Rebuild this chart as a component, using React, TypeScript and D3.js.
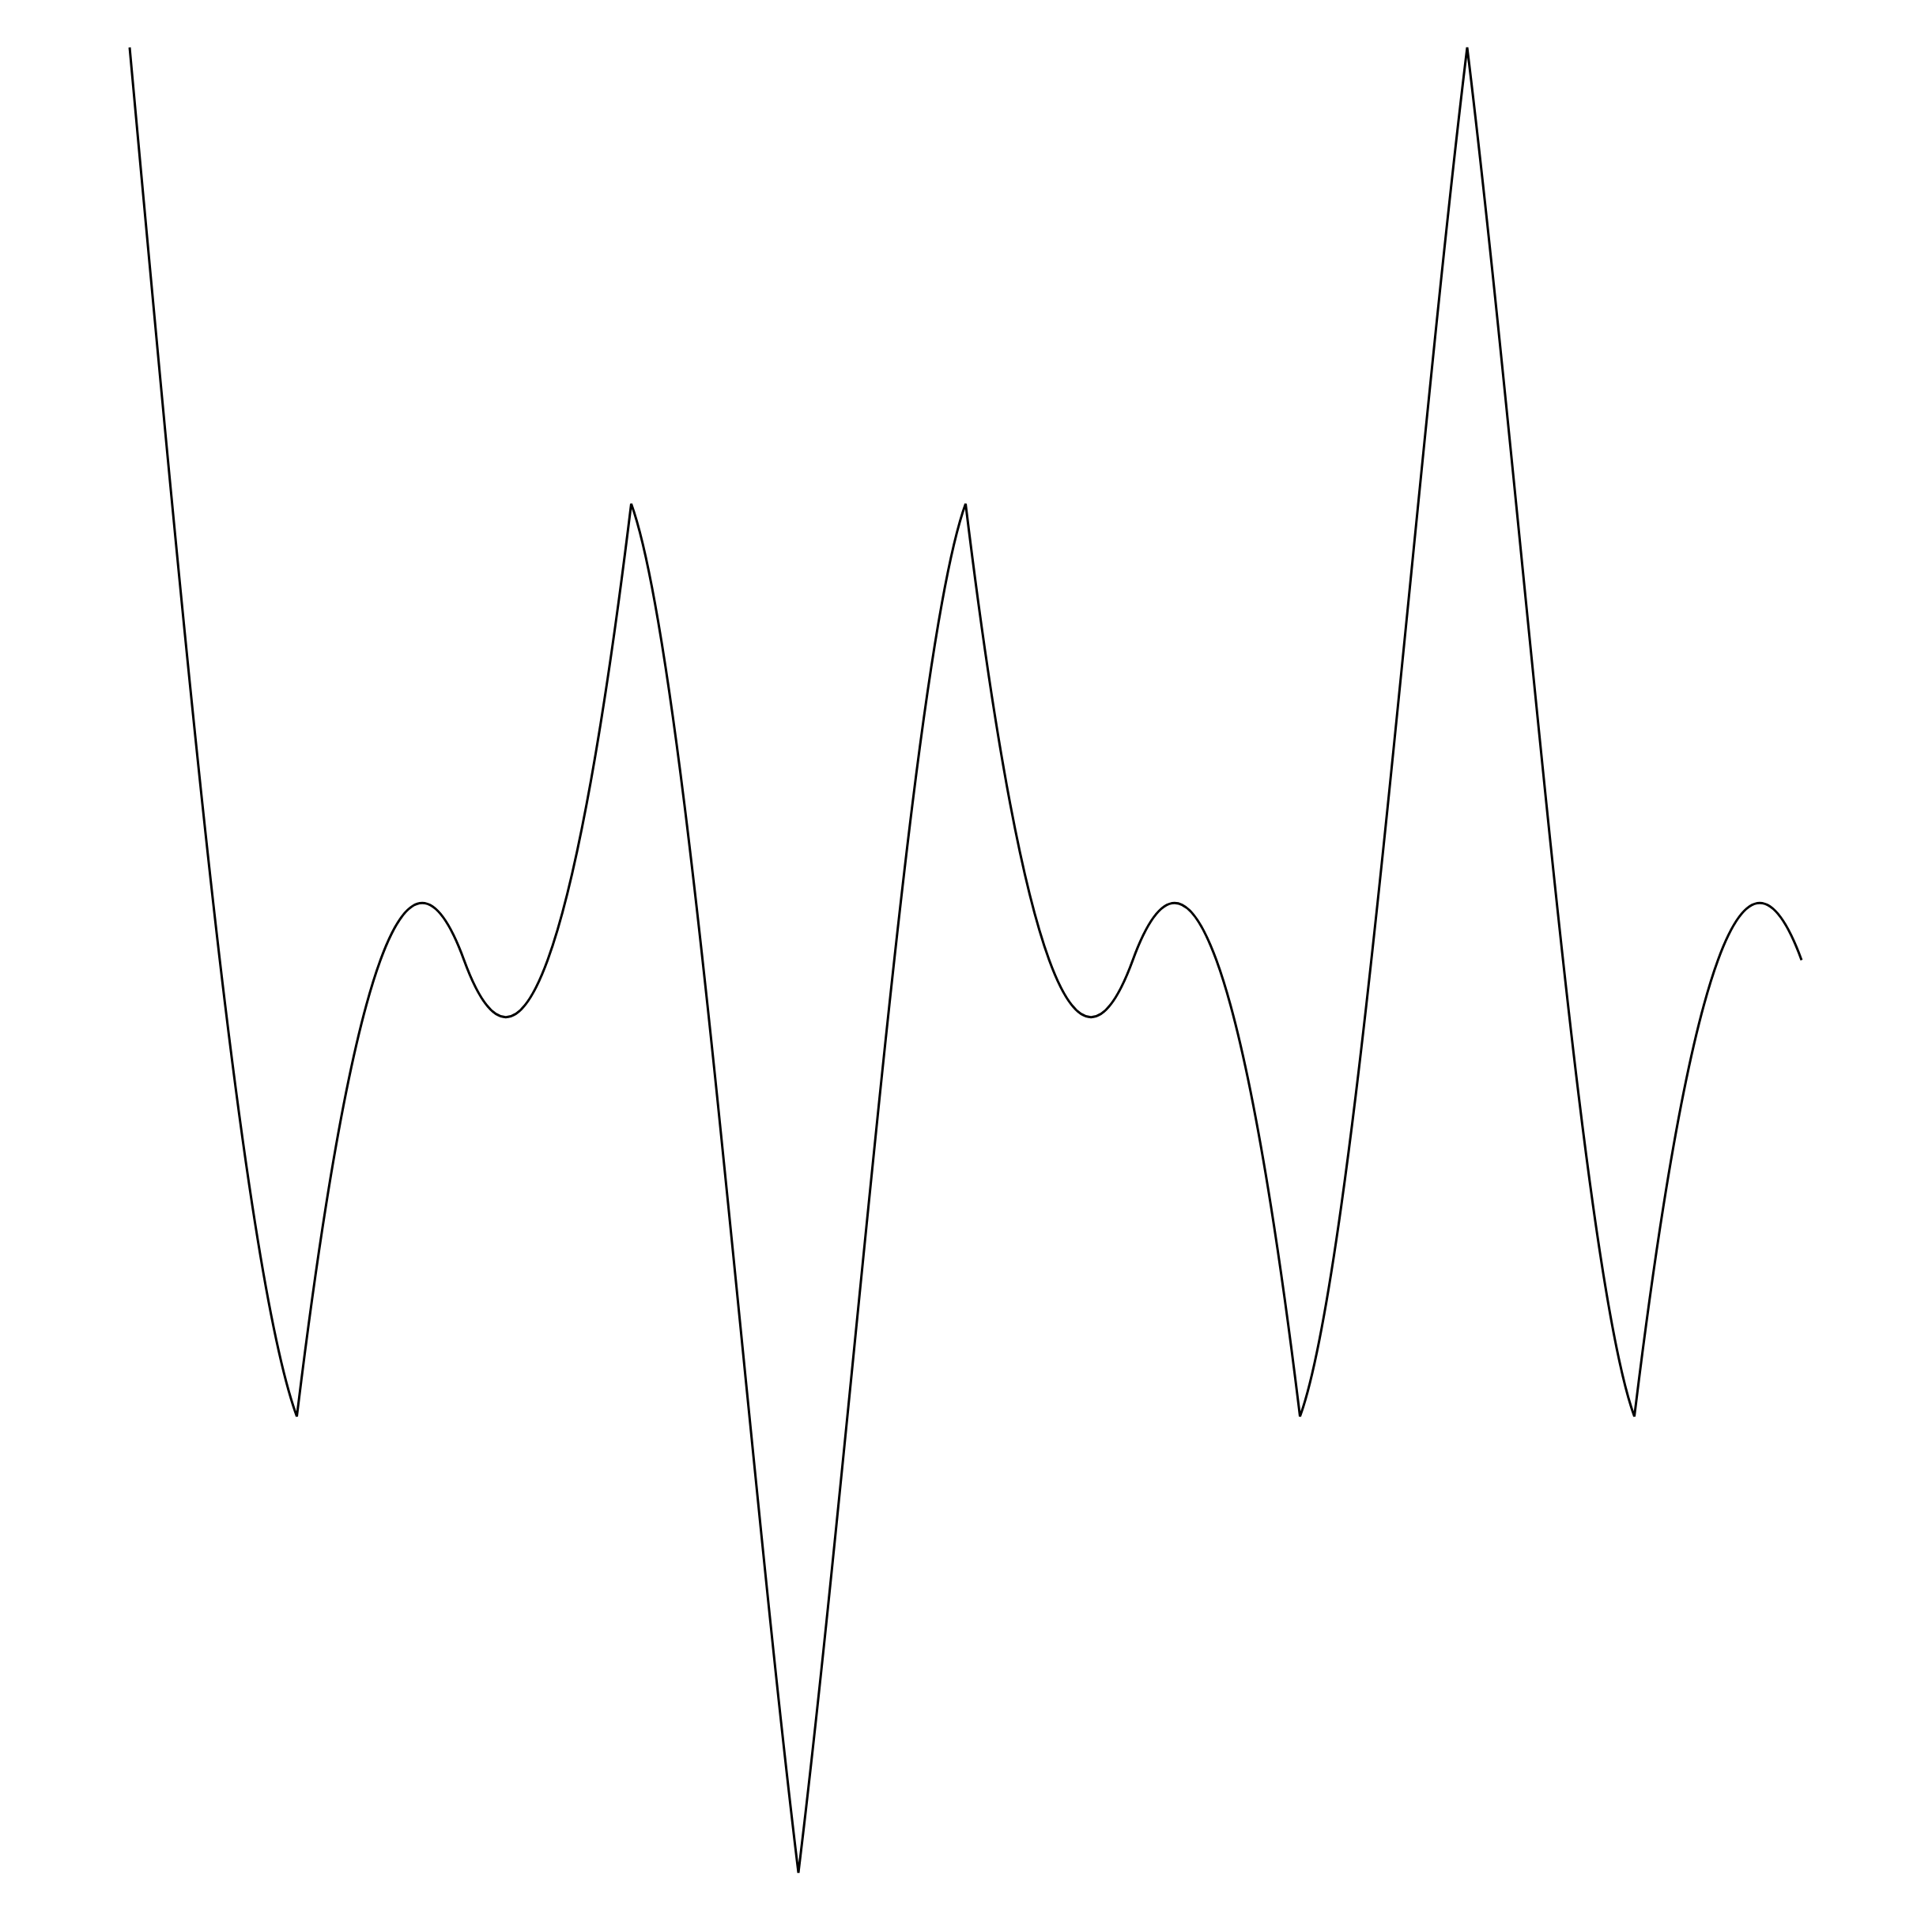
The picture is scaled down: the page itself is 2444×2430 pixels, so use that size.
import React, { useEffect, useRef } from "react";
import * as d3 from "d3";

const xs = [0, 1, 2, 3, 4, 5, 6, 7, 8, 9, 10];
const values = [4, 1, 2, 3, 0, 3, 2, 1, 4, 1, 2];

const W = 2444;
const H = 2430;

// Custom cubic curve: control points at thirds in x, tangents taken from the
// reflected neighbouring chords (matches the reference's cusp-like joins).
function curveReflect(context: any) {
  let px: number[] = [];
  let py: number[] = [];
  return {
    areaStart() {},
    areaEnd() {},
    lineStart() {
      px = [];
      py = [];
    },
    point(x: number, y: number) {
      px.push(+x);
      py.push(+y);
    },
    lineEnd() {
      const n = px.length;
      if (!n) return;
      context.moveTo(px[0], py[0]);
      if (n === 1) return;
      const s: number[] = [];
      for (let i = 0; i < n - 1; i++) s.push((py[i + 1] - py[i]) / (px[i + 1] - px[i]));
      for (let i = 0; i < n - 1; i++) {
        const h = (px[i + 1] - px[i]) / 3;
        const bEnd = i + 1 === n - 1 ? -s[i] : -s[i + 1];
        const a = i === 0 ? (3 * s[0] - bEnd) / 2 : -s[i - 1];
        context.bezierCurveTo(
          px[i] + h,
          py[i] + h * a,
          px[i + 1] - h,
          py[i + 1] - h * bEnd,
          px[i + 1],
          py[i + 1]
        );
      }
    },
  };
}

export default function App() {
  const ref = useRef<SVGSVGElement>(null);
  useEffect(() => {
    const svg = d3.select(ref.current);
    svg.selectAll("*").remove();
    const x = d3.scaleLinear().domain([0, 10]).range([164, 2279]);
    const y = d3.scaleLinear().domain([0, 4]).range([2369, 60]);
    const line = d3
      .line<number>()
      .x((_, i) => x(xs[i]))
      .y((d) => y(d))
      .curve(curveReflect as any);
    svg
      .append("path")
      .attr("d", line(values))
      .attr("fill", "none")
      .attr("stroke", "black")
      .attr("stroke-width", 3);
  }, []);
  return (
    <svg
      ref={ref}
      width={W}
      height={H}
      style={{ position: "absolute", left: 0, top: 0, background: "white" }}
    />
  );
}
